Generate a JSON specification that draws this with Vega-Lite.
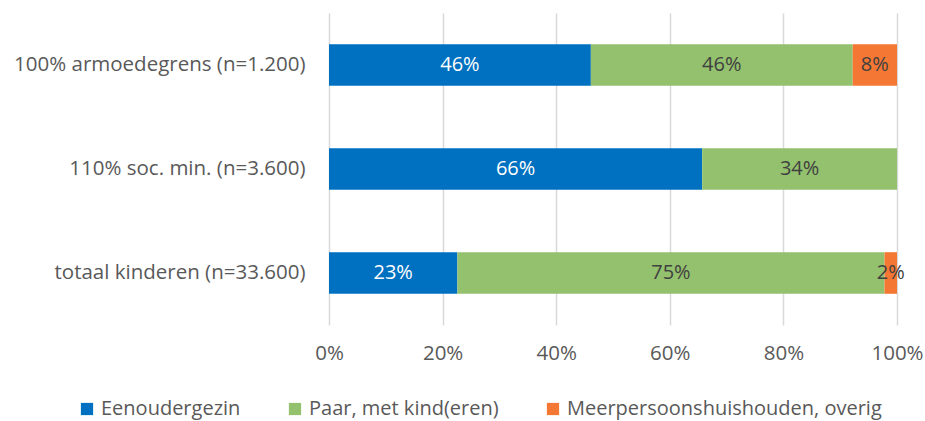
{
  "$schema": "https://vega.github.io/schema/vega-lite/v6.json",
  "width": 568,
  "height": 312,
  "autosize": {"type": "none"},
  "padding": {"left": 329, "top": 13, "right": 28, "bottom": 96},
  "background": "white",
  "config": {
    "view": {"stroke": null},
    "font": "Open Sans",
    "axis": {"labelFont": "Open Sans", "labelColor": "#595959", "labelFontSize": 20.5},
    "legend": {"labelFont": "Open Sans", "labelColor": "#595959", "labelFontSize": 20}
  },
  "data": {
    "values": [
      {"groep": "100% armoedegrens (n=1.200)", "type": "Eenoudergezin", "aandeel": 0.461},
      {"groep": "100% armoedegrens (n=1.200)", "type": "Paar, met kind(eren)", "aandeel": 0.461},
      {"groep": "100% armoedegrens (n=1.200)", "type": "Meerpersoonshuishouden, overig", "aandeel": 0.078},
      {"groep": "110% soc. min. (n=3.600)", "type": "Eenoudergezin", "aandeel": 0.657},
      {"groep": "110% soc. min. (n=3.600)", "type": "Paar, met kind(eren)", "aandeel": 0.343},
      {"groep": "totaal kinderen (n=33.600)", "type": "Eenoudergezin", "aandeel": 0.226},
      {"groep": "totaal kinderen (n=33.600)", "type": "Paar, met kind(eren)", "aandeel": 0.752},
      {"groep": "totaal kinderen (n=33.600)", "type": "Meerpersoonshuishouden, overig", "aandeel": 0.022}
    ]
  },
  "transform": [
    {"calculate": "indexof(['Eenoudergezin','Paar, met kind(eren)','Meerpersoonshuishouden, overig'], datum.type)", "as": "volgorde"}
  ],
  "encoding": {
    "y": {
      "field": "groep", "type": "nominal", "sort": null,
      "scale": {"paddingInner": 0.6, "paddingOuter": 0.3},
      "axis": {"title": null, "domain": false, "ticks": false, "labelPadding": 24, "labelLimit": 400}
    }
  },
  "layer": [
    {
      "mark": {"type": "bar"},
      "encoding": {
        "x": {
          "field": "aandeel", "type": "quantitative", "stack": "zero",
          "scale": {"domain": [0, 1]},
          "axis": {"title": null, "format": ".0%", "values": [0, 0.2, 0.4, 0.6, 0.8, 1], "domain": false, "ticks": false, "grid": true, "gridColor": "#d9d9d9", "gridWidth": 1.5, "labelPadding": 18, "labelFlush": false}
        },
        "color": {
          "field": "type", "type": "nominal",
          "sort": ["Eenoudergezin", "Paar, met kind(eren)", "Meerpersoonshuishouden, overig"],
          "scale": {"domain": ["Eenoudergezin", "Paar, met kind(eren)", "Meerpersoonshuishouden, overig"], "range": ["#0070C0", "#94C16E", "#F47733"]},
          "legend": {"title": null, "orient": "none", "direction": "horizontal", "legendX": -252, "legendY": 386, "symbolType": "square", "symbolSize": 150, "symbolStrokeWidth": 0, "symbolOpacity": 1, "columnPadding": 44, "labelOffset": 4, "labelLimit": 500}
        },
        "order": {"field": "volgorde", "type": "quantitative"}
      }
    },
    {
      "mark": {"type": "text", "fontSize": 20, "font": "Open Sans"},
      "encoding": {
        "x": {"field": "aandeel", "type": "quantitative", "stack": "zero", "bandPosition": 0.5},
        "text": {"field": "aandeel", "type": "quantitative", "format": ".0%"},
        "order": {"field": "volgorde", "type": "quantitative"},
        "color": {"condition": {"test": "datum.type === 'Eenoudergezin'", "value": "white"}, "value": "#404040"}
      }
    }
  ]
}
